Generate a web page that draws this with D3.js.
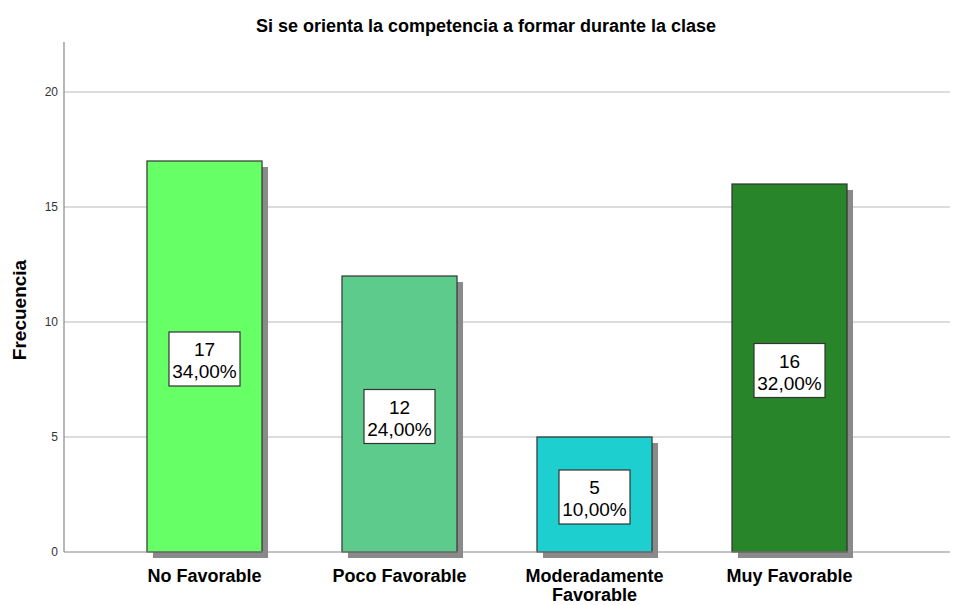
<!DOCTYPE html>
<html>
<head>
<meta charset="utf-8">
<script src="https://cdn.jsdelivr.net/npm/d3@7"></script>
<style>
    body { margin: 0; background: #fff; }
    text { font-family: "Liberation Sans", Arial, sans-serif; }
</style>
</head>
<body>
<svg id="chart" width="963" height="605"></svg>
<script>
"use strict";

var categories = ["No Favorable", "Poco Favorable", "Moderadamente Favorable", "Muy Favorable"];
var counts = [17, 12, 5, 16];
var percents = ["34,00%", "24,00%", "10,00%", "32,00%"];
var colors = ["#66ff66", "#5ccb8b", "#1dcfcf", "#28852a"];
var yTicks = [0, 5, 10, 15, 20];

var svg = d3.select("#chart");
var plot = { left: 64, right: 950, top: 42, bottom: 552 };

var x = d3.scaleBand()
    .domain(categories)
    .range([107, 887])
    .paddingInner(0.41)
    .paddingOuter(0.205);
var y = d3.scaleLinear().domain([0, 22]).range([plot.bottom, 46]);

// title
svg.append("text")
    .attr("x", 486).attr("y", 32)
    .attr("text-anchor", "middle")
    .style("font-size", "18px").style("font-weight", "bold")
    .text("Si se orienta la competencia a formar durante la clase");

// grid lines
svg.append("g").selectAll("line")
    .data(yTicks.filter(function (d) { return d > 0; }))
    .enter().append("line")
    .attr("x1", plot.left).attr("x2", plot.right)
    .attr("y1", function (d) { return y(d); })
    .attr("y2", function (d) { return y(d); })
    .style("stroke", "#d0d0d0").style("stroke-width", 1.5);

// y axis
var gY = svg.append("g")
    .attr("transform", "translate(" + plot.left + ",0)")
    .call(d3.axisLeft(y).tickValues(yTicks).tickSize(0).tickPadding(6));
gY.select(".domain").remove();
gY.selectAll("text").style("font-size", "12px").style("fill", "#333")
    .style("font-family", "Liberation Sans, Arial, sans-serif");
svg.append("line")
    .attr("x1", plot.left).attr("x2", plot.left)
    .attr("y1", plot.top).attr("y2", plot.bottom)
    .style("stroke", "#888").style("stroke-width", 1.2);

svg.append("text")
    .attr("transform", "translate(26," + 310 + ") rotate(-90)")
    .attr("text-anchor", "middle")
    .style("font-size", "19px").style("font-weight", "bold")
    .text("Frecuencia");

// shadows
var bars = svg.append("g");
bars.selectAll("rect.shadow")
    .data(counts)
    .enter().append("rect")
    .attr("class", "shadow")
    .attr("x", function (d, i) { return x(categories[i]) + 6; })
    .attr("y", function (d) { return y(d) + 6; })
    .attr("width", x.bandwidth())
    .attr("height", function (d) { return plot.bottom - y(d); })
    .style("fill", "#8a8a8a");

// baseline
svg.append("line")
    .attr("x1", plot.left).attr("x2", plot.right)
    .attr("y1", plot.bottom).attr("y2", plot.bottom)
    .style("stroke", "#888").style("stroke-width", 1.2);

bars.selectAll("rect.bar")
    .data(counts)
    .enter().append("rect")
    .attr("class", "bar")
    .attr("x", function (d, i) { return x(categories[i]); })
    .attr("y", function (d) { return y(d); })
    .attr("width", x.bandwidth())
    .attr("height", function (d) { return plot.bottom - y(d); })
    .style("fill", function (d, i) { return colors[i]; })
    .style("stroke", "#333").style("stroke-width", 1.2);

// value labels
var lab = svg.append("g").selectAll("g")
    .data(counts)
    .enter().append("g")
    .attr("transform", function (d, i) {
        return "translate(" + (x(categories[i]) + x.bandwidth() / 2) + "," + (y(d / 2) + 2.5) + ")";
    });
lab.append("rect")
    .attr("x", -35.5).attr("y", -27)
    .attr("width", 71).attr("height", 54)
    .style("fill", "#fff").style("stroke", "#333").style("stroke-width", 1.2);
lab.append("text")
    .attr("text-anchor", "middle").attr("y", -3)
    .style("font-size", "19px")
    .text(function (d) { return d; });
lab.append("text")
    .attr("text-anchor", "middle").attr("y", 19)
    .style("font-size", "19px")
    .text(function (d, i) { return percents[i]; });

// category labels
svg.append("g").selectAll("text")
    .data(categories)
    .enter().append("text")
    .attr("text-anchor", "middle")
    .attr("x", function (d) { return x(d) + x.bandwidth() / 2; })
    .attr("y", 582)
    .style("font-size", "18px").style("font-weight", "bold")
    .each(function (d) {
        var t = d3.select(this);
        var words = d === "Moderadamente Favorable" ? ["Moderadamente", "Favorable"] : [d];
        words.forEach(function (w, k) {
            t.append("tspan")
                .attr("x", x(d) + x.bandwidth() / 2)
                .attr("dy", k === 0 ? 0 : 19)
                .text(w);
        });
    });
</script>
</body>
</html>
